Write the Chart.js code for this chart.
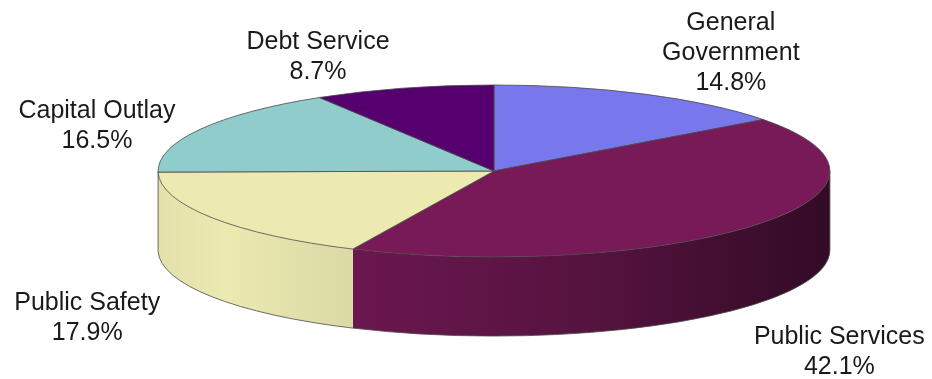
<!DOCTYPE html>
<html>
<head>
<meta charset="utf-8">
<script src="https://cdn.jsdelivr.net/npm/chart.js@4.4.1/dist/chart.umd.min.js"></script>
<style>
  html, body { margin: 0; padding: 0; background: #fff; }
  #wrap { position: relative; width: 932px; height: 379px; }
</style>
</head>
<body>
<div id="wrap"><canvas id="budget-chart"></canvas></div>
<script>
const categories = [['General', 'Government'], 'Public Services', 'Public Safety', 'Capital Outlay', 'Debt Service'];
const shares = [14.8, 42.1, 17.9, 16.5, 8.7];
const sliceColors = ['#7878ec', '#781a58', '#ece9b1', '#90cccc', '#55006e'];
// where each label sits, in units of the ellipse radii from the pie centre
const labelAnchors = [[0.705, -1.366], [1.028, 2.11], [-1.211, 1.709], [-1.182, -0.517], [-0.524, -1.326]];

// tilt of the "3D" pie
const STRETCH_X = 1.976;
const STRETCH_Y = 0.506;
const DEPTH = 0.465;
const LINE_H = 30;
// brightness of the rim from left (0) to right (1)
const sideLight = [[0, 0.93], [0.1, 1], [0.3, 0.87], [0.65, 0.68], [0.85, 0.5], [1, 0.38]];

function shade(hex, f) {
  const n = parseInt(hex.slice(1), 16);
  let r = (n >> 16) & 255, g = (n >> 8) & 255, b = n & 255;
  // light colours darken less on the rim
  const lum = (0.3 * r + 0.59 * g + 0.11 * b) / 255;
  const k = Math.pow(f, 1 - lum * 0.5);
  r = Math.min(255, Math.round(r * k));
  g = Math.min(255, Math.round(g * k));
  b = Math.min(255, Math.round(b * k));
  return `rgb(${r},${g},${b})`;
}

const pie3d = {
  id: 'pie3d',
  beforeDatasetsDraw(chart) {
    const ctx = chart.ctx;
    const arcs = chart.getDatasetMeta(0).data;
    if (!arcs.length) return false;
    const { x: cx, y: cy, outerRadius: R } = arcs[0].getProps(['x', 'y', 'outerRadius'], true);
    const rx = R * STRETCH_X, ry = R * STRETCH_Y, depth = R * DEPTH;

    ctx.save();
    ctx.lineWidth = 0.8;
    ctx.strokeStyle = '#4a4a4a';

    // rim: only the front half (0..PI with y pointing down) is visible
    arcs.forEach((arc, i) => {
      const { startAngle, endAngle } = arc.getProps(['startAngle', 'endAngle'], true);
      const a0 = Math.max(startAngle, 0);
      const a1 = Math.min(endAngle, Math.PI);
      if (a1 <= a0) return;
      const grad = ctx.createLinearGradient(cx - rx, 0, cx + rx, 0);
      sideLight.forEach(([t, f]) => grad.addColorStop(t, shade(sliceColors[i], f)));
      ctx.beginPath();
      ctx.ellipse(cx, cy, rx, ry, 0, a0, a1);
      ctx.ellipse(cx, cy + depth, rx, ry, 0, a1, a0, true);
      ctx.closePath();
      ctx.fillStyle = grad;
      ctx.fill();
      ctx.beginPath();
      ctx.ellipse(cx, cy + depth, rx, ry, 0, a0, a1);
      ctx.stroke();
    });
    ctx.beginPath();
    ctx.moveTo(cx - rx, cy);
    ctx.lineTo(cx - rx, cy + depth);
    ctx.moveTo(cx + rx, cy);
    ctx.lineTo(cx + rx, cy + depth);
    ctx.stroke();

    // top faces
    arcs.forEach((arc, i) => {
      const { startAngle, endAngle } = arc.getProps(['startAngle', 'endAngle'], true);
      ctx.beginPath();
      ctx.moveTo(cx, cy);
      ctx.ellipse(cx, cy, rx, ry, 0, startAngle, endAngle);
      ctx.closePath();
      ctx.fillStyle = sliceColors[i];
      ctx.fill();
      ctx.stroke();
    });

    // labels
    ctx.fillStyle = '#1a1a1a';
    ctx.font = '25px "Liberation Sans", Arial, sans-serif';
    ctx.textAlign = 'center';
    ctx.textBaseline = 'middle';
    arcs.forEach((arc, i) => {
      const lines = [].concat(chart.data.labels[i], shares[i].toFixed(1) + '%');
      const [ux, uy] = labelAnchors[i];
      const lx = cx + ux * rx;
      const top = cy + uy * ry - (lines.length - 1) * LINE_H / 2;
      lines.forEach((t, j) => ctx.fillText(t, lx, top + j * LINE_H));
    });
    ctx.restore();
    return false;
  }
};

new Chart(document.getElementById('budget-chart'), {
  type: 'pie',
  data: {
    labels: categories,
    datasets: [{
      data: shares,
      backgroundColor: sliceColors,
      borderWidth: 0
    }]
  },
  options: {
    responsive: true,
    maintainAspectRatio: false,
    animation: false,
    layout: { padding: { left: 56, right: 0, top: 1, bottom: 38 } },
    plugins: {
      legend: { display: false },
      tooltip: { enabled: false }
    }
  },
  plugins: [pie3d]
});
</script>
</body>
</html>
